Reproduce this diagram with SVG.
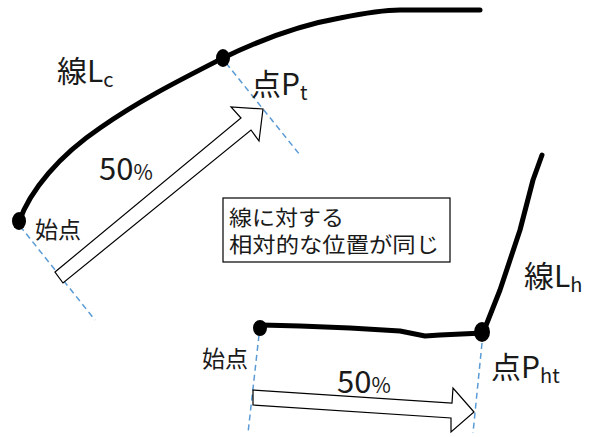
<svg xmlns="http://www.w3.org/2000/svg" width="592" height="437" viewBox="0 0 592 437">
<style>
text{font-family:"Noto Sans CJK JP","Noto Sans",sans-serif;fill:#1a1a1a}
.lbl{font-size:30px}
.sub{font-size:20px}
.sm{font-size:23px}
.box{font-size:21px}
.pct{font-size:31px}
.pcs{font-size:21px}
.curve{fill:none;stroke:#000;stroke-width:5;stroke-linecap:round;stroke-linejoin:round}
.dash{fill:none;stroke:#5B9BD5;stroke-width:1.5;stroke-dasharray:6 4}
.arrow{fill:#fff;stroke:#000;stroke-width:1.2;stroke-linejoin:miter}
.dot{fill:#000}
</style>
<rect width="592" height="437" fill="#fff"/>
<g id="connectors">
<path class="dash" d="M20,226 L95,320"/>
<path class="dash" d="M226,63 L300,155"/>
<path class="dash" d="M259,335 L248,433"/>
<path class="dash" d="M482,343 L473,433"/>
<polygon class="arrow" points="55,272 241,118 231,107 263,109 259,141 251,130 63,283"/>
<polygon class="arrow" points="253,390 452,403 453,388 474,412 451,432 451,418 253,405"/>
</g>
<g id="curveLc">
<path class="curve" d="M19,222 C30,190 60,155 100,128 C140,100 180,80 223,58 C260,40 300,25 340,18 C360,14 380,10 400,10 L480,10"/>
<ellipse class="dot" cx="19" cy="221" rx="7" ry="9"/>
<ellipse class="dot" cx="223" cy="58" rx="7" ry="9"/>
</g>
<g id="curveLh">
<path class="curve" d="M261,325 L300,326 L350,328 L400,331 L425,336 L440,335 L483,333 L500,290 L520,230 L533,180 L542,155"/>
<ellipse class="dot" cx="260" cy="328" rx="7" ry="8"/>
<ellipse class="dot" cx="482" cy="332" rx="8" ry="10"/>
</g>
<g id="label-Lc"><text class="lbl" x="57" y="82">線L<tspan class="sub" dy="5">c</tspan></text></g>
<g id="label-Pt"><text class="lbl" x="251" y="95">点P<tspan class="sub" dy="5">t</tspan></text></g>
<g id="label-start1"><text class="sm" x="35" y="238">始点</text></g>
<g id="label-50a"><text class="pct" x="99" y="180">50<tspan class="pcs">%</tspan></text></g>
<g id="note">
<rect x="223" y="198" width="227" height="64" fill="#fff" stroke="#000" stroke-width="1.2"/>
<text class="box" x="229" y="225" textLength="115" lengthAdjust="spacingAndGlyphs">線に対する</text>
<text class="box" x="229" y="252" textLength="210" lengthAdjust="spacingAndGlyphs">相対的な位置が同じ</text>
</g>
<g id="label-Lh"><text class="lbl" x="524" y="287">線L<tspan class="sub" dy="5">h</tspan></text></g>
<g id="label-Pht"><text class="lbl" x="491" y="378">点P<tspan class="sub" dy="5">ht</tspan></text></g>
<g id="label-start2"><text class="sm" x="202" y="367">始点</text></g>
<g id="label-50b"><text class="pct" x="337" y="393">50<tspan class="pcs">%</tspan></text></g>
</svg>
